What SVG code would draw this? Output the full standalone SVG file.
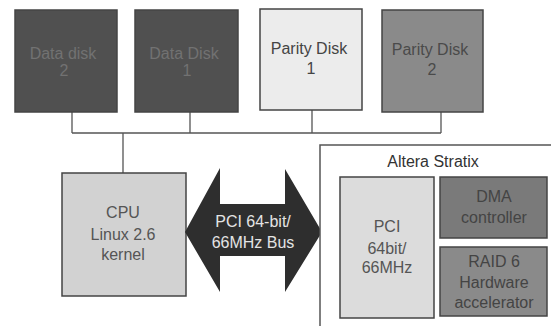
<svg xmlns="http://www.w3.org/2000/svg" width="551" height="326" viewBox="0 0 551 326">
<style>
text{font-family:"Liberation Sans",Arial,sans-serif;font-size:16px;text-anchor:middle}
.box{stroke:#444;stroke-width:1.5}
.ln{stroke:#555;stroke-width:1.3;fill:none}
</style>
<rect width="551" height="326" fill="#fff"/>
<g id="connectors">
<path class="ln" d="M72 112V133M190 112V133M312 110V133M441 112V133M72 133H441M123 133V173"/>
</g>
<g id="datadisk2">
<rect class="box" x="15" y="10" width="102" height="102" fill="#505050"/>
<text x="63" y="59" fill="#727272">Data disk</text>
<text x="64" y="76" fill="#727272">2</text>
</g>
<g id="datadisk1">
<rect class="box" x="135" y="10" width="103" height="102" fill="#505050"/>
<text x="184" y="59" fill="#727272">Data Disk</text>
<text x="187" y="76" fill="#727272">1</text>
</g>
<g id="parity1">
<rect class="box" x="260" y="9" width="102" height="101" fill="#ececec"/>
<text x="309" y="54" fill="#444">Parity Disk</text>
<text x="311" y="74" fill="#444">1</text>
</g>
<g id="parity2">
<rect class="box" x="382" y="10" width="101" height="102" fill="#8a8a8a"/>
<text x="430" y="55" fill="#4a4a4a">Parity Disk</text>
<text x="432" y="75" fill="#4a4a4a">2</text>
</g>
<g id="cpu">
<rect class="box" x="62" y="173" width="124" height="123" fill="#d2d2d2"/>
<text x="123" y="218" fill="#555">CPU</text>
<text x="123" y="240" fill="#555">Linux 2.6</text>
<text x="123" y="260" fill="#555">kernel</text>
</g>
<g id="pcibus">
<polygon points="185,232 220,168 220,204 285,204 285,169 322,232 285,292 285,256 220,256 220,292" fill="#2e2e2e"/>
<text x="253" y="227" fill="#e4e4e4">PCI 64-bit/</text>
<text x="253" y="248" fill="#e4e4e4">66MHz Bus</text>
</g>
<g id="altera">
<rect x="320" y="145" width="240" height="190" fill="#fff" stroke="#555" stroke-width="1.5"/>
<text x="433" y="167" fill="#333">Altera Stratix</text>
</g>
<g id="pci">
<rect class="box" x="340" y="177" width="94" height="141" fill="#dcdcdc"/>
<text x="387" y="232" fill="#555">PCI</text>
<text x="387" y="254" fill="#555">64bit/</text>
<text x="387" y="273" fill="#555">66MHz</text>
</g>
<g id="dma">
<rect class="box" x="440" y="177" width="107" height="61" fill="#7a7a7a"/>
<text x="494" y="202" fill="#444">DMA</text>
<text x="494" y="223" fill="#444">controller</text>
</g>
<g id="raid">
<rect class="box" x="440" y="247" width="107" height="69" fill="#8a8a8a"/>
<text x="494" y="267" fill="#444">RAID 6</text>
<text x="494" y="288" fill="#444">Hardware</text>
<text x="494" y="308" fill="#444">accelerator</text>
</g>
</svg>
